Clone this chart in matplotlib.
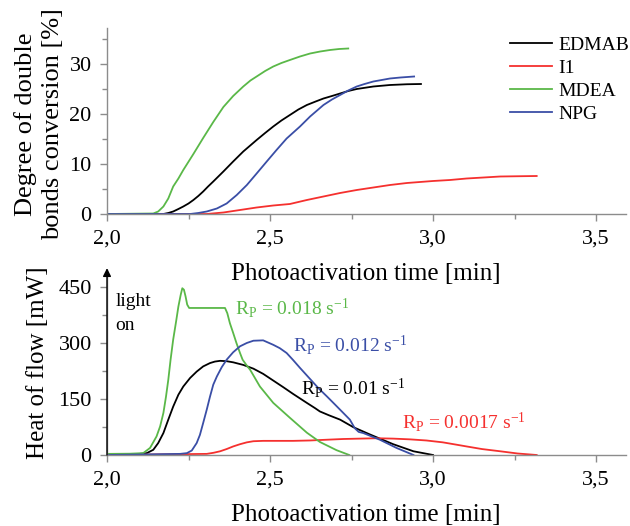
import matplotlib
matplotlib.use("Agg")
import matplotlib.pyplot as plt
from matplotlib.ticker import MultipleLocator, FuncFormatter

plt.rcParams['font.family'] = ['Liberation Serif', 'DejaVu Serif']
plt.rcParams['mathtext.fontset'] = 'custom'
plt.rcParams['mathtext.rm'] = 'Liberation Serif'
plt.rcParams['mathtext.it'] = 'Liberation Serif:italic'

# ---- colours
C_EDMAB = '#000000'
C_I1 = '#f5302e'
C_MDEA = '#5ab848'
C_NPG = '#3a4ea6'
GRAY = '#8c8c8c'

# ---- top panel: degree of double bonds conversion [%]
edmab_x = [2.0, 2.173, 2.188, 2.203, 2.219, 2.234, 2.25, 2.265, 2.28, 2.295, 2.31,
           2.326, 2.357, 2.387, 2.418, 2.459, 2.485, 2.51, 2.535, 2.561, 2.587,
           2.613, 2.64, 2.664, 2.69, 2.715, 2.74, 2.766, 2.817, 2.868, 2.92, 2.963]
edmab_y = [0, 0, 0.2, 0.5, 1.0, 1.5, 2.1, 2.8, 3.6, 4.5, 5.5,
           6.5, 8.5, 10.5, 12.5, 14.8, 16.2, 17.5, 18.7, 19.8, 20.9,
           21.8, 22.5, 23.1, 23.6, 24.1, 24.6, 25.0, 25.5, 25.8, 25.95, 26.0]

i1_x = [2.0, 2.306, 2.357, 2.408, 2.459, 2.51, 2.561, 2.613, 2.664, 2.715, 2.766,
        2.817, 2.868, 2.92, 2.96, 3.0, 3.052, 3.103, 3.155, 3.206, 3.26, 3.318]
i1_y = [0, 0, 0.3, 0.8, 1.3, 1.7, 2.0, 2.8, 3.5, 4.2, 4.8,
        5.3, 5.8, 6.2, 6.4, 6.6, 6.8, 7.1, 7.3, 7.5, 7.55, 7.6]

mdea_x = [2.0, 2.142, 2.157, 2.173, 2.188, 2.203, 2.219, 2.234, 2.265, 2.295, 2.326,
          2.357, 2.387, 2.418, 2.44, 2.459, 2.485, 2.51, 2.535, 2.561, 2.592,
          2.623, 2.654, 2.684, 2.712, 2.740]
mdea_y = [0, 0.1, 0.5, 1.5, 3.1, 5.5, 7.1, 8.8, 12.0, 15.2, 18.4,
          21.4, 23.6, 25.5, 26.7, 27.5, 28.6, 29.5, 30.2, 30.8, 31.5,
          32.1, 32.5, 32.8, 33.0, 33.1]

npg_x = [2.0, 2.255, 2.28, 2.306, 2.337, 2.367, 2.398, 2.429, 2.459, 2.49, 2.52,
         2.551, 2.592, 2.623, 2.664, 2.69, 2.715, 2.74, 2.766, 2.79, 2.817,
         2.868, 2.9, 2.942]
npg_y = [0, 0, 0.2, 0.5, 1.1, 2.1, 3.8, 5.8, 8.1, 10.5, 12.8,
         15.1, 17.5, 19.5, 21.8, 22.9, 23.8, 24.7, 25.5, 26.0, 26.5,
         27.1, 27.3, 27.5]

# ---- bottom panel: heat of flow [mW]
edmab_hf_x = [2.0, 2.1, 2.122, 2.142, 2.157, 2.173, 2.188, 2.203, 2.219, 2.234, 2.255,
              2.275, 2.295, 2.316, 2.331, 2.347, 2.367, 2.387, 2.418, 2.449, 2.479,
              2.51, 2.541, 2.571, 2.613, 2.638, 2.653, 2.68, 2.715, 2.755, 2.807,
              2.878, 2.94, 3.0]
edmab_hf_y = [2, 3, 5, 14, 32, 59, 95, 130, 162, 184, 207,
              224, 238, 247, 251, 253, 252, 249, 242, 232, 218,
              200, 182, 164, 140, 126, 117, 107, 95, 75, 55,
              29, 10, 0]

i1_hf_x = [2.0, 2.306, 2.327, 2.347, 2.367, 2.387, 2.408, 2.429, 2.449, 2.479, 2.52,
           2.571, 2.622, 2.673, 2.725, 2.776, 2.827, 2.878, 2.93, 2.98, 3.03,
           3.07, 3.103, 3.15, 3.206, 3.26, 3.318]
i1_hf_y = [0, 3, 6, 10, 16, 23, 29, 34, 37, 38, 38,
           38, 39, 41, 43, 44, 45, 44, 42, 39, 34,
           28, 23, 16, 10, 4, 0]

mdea_hf_x = [2.0, 2.07, 2.111, 2.132, 2.152, 2.163, 2.173, 2.181, 2.188, 2.195, 2.203,
             2.212, 2.219, 2.226, 2.231, 2.236, 2.241, 2.246, 2.252, 2.362, 2.369,
             2.377, 2.387, 2.397, 2.408, 2.416, 2.429, 2.439, 2.469, 2.51, 2.561,
             2.613, 2.653, 2.704, 2.743]
mdea_hf_y = [3, 3.5, 5, 19, 50, 77, 113, 157, 202, 256, 310,
             359, 399, 430, 448, 444, 426, 404, 395, 395, 381,
             354, 328, 301, 274, 256, 240, 229, 184, 140, 100,
             60, 35, 13, 0]

npg_hf_x = [2.0, 2.224, 2.245, 2.26, 2.275, 2.285, 2.295, 2.306, 2.316, 2.326, 2.337,
            2.352, 2.367, 2.387, 2.408, 2.429, 2.449, 2.479, 2.51, 2.53, 2.551,
            2.571, 2.592, 2.62, 2.648, 2.675, 2.7, 2.745, 2.76, 2.772, 2.786,
            2.837, 2.888, 2.94]
npg_hf_y = [0, 3, 5, 12, 32, 54, 86, 122, 157, 189, 211,
            236, 256, 276, 292, 301, 307, 308, 296, 287, 274,
            255, 234, 207, 180, 157, 135, 95, 72, 62, 59,
            41, 19, 0]

legend_labels = ['EDMAB', 'I1', 'MDEA', 'NPG']
rp_labels = ['0.01', '0.0017', '0.018', '0.012']

x_ticks = [2.0, 2.5, 3.0, 3.5]
top_yticks = [0, 10, 20, 30]
bot_yticks = [0, 150, 300, 450]

W, H = 630, 526
fig = plt.figure(figsize=(W / 100, H / 100), dpi=100)

def px_axes(l, t, r, b):
    return fig.add_axes([l / W, 1 - b / H, (r - l) / W, (b - t) / H])

ax1 = px_axes(107, 28, 626, 214)
ax2 = px_axes(107, 270, 626, 455)
ax2.patch.set_visible(False)

comma = FuncFormatter(lambda v, p: f"{v:.1f}".replace('.', ','))

for ax in (ax1, ax2):
    for s in ('top', 'right'):
        ax.spines[s].set_visible(False)
    for s in ('left', 'bottom'):
        ax.spines[s].set_color(GRAY)
        ax.spines[s].set_linewidth(1.0)
    ax.set_xlim(2.0, 3.592)
    ax.set_xticks(x_ticks)
    ax.xaxis.set_minor_locator(MultipleLocator(0.25))
    ax.xaxis.set_major_formatter(comma)
    ax.tick_params(which='major', direction='out', length=5, width=1.0,
                   color=GRAY, labelsize=16, pad=6)
    ax.tick_params(which='minor', direction='out', length=3.5, width=1.0, color=GRAY)


def fig_text(x, y, s, **kw):
    fig.text(x / W, 1 - y / H, s, **kw)

fig_text(366, 274, 'Photoactivation time [min]', fontsize=18, ha='center', va='center')
fig_text(366, 515, 'Photoactivation time [min]', fontsize=18, ha='center', va='center')
fig_text(39, 124, 'Degree of double\nbonds conversion [%]', fontsize=19,
         ha='center', va='center', rotation=90, linespacing=1.25, multialignment='center')
fig_text(38, 363, 'Heat of flow [mW]', fontsize=18, ha='center', va='center', rotation=90)

lw = 1.3
series_top = [(edmab_x, edmab_y, C_EDMAB), (i1_x, i1_y, C_I1),
              (mdea_x, mdea_y, C_MDEA), (npg_x, npg_y, C_NPG)]
for (x, y, c), lab in zip(series_top, legend_labels):
    ax1.plot(x, y, color=c, lw=lw, label=lab)

ax1.set_ylim(0, 37.2)
ax1.set_yticks(top_yticks)
ax1.yaxis.set_minor_locator(MultipleLocator(5))
leg = ax1.legend(loc='upper left', bbox_to_anchor=(0.776, 0.955), frameon=False,
                 fontsize=14, handlelength=2.15, handletextpad=0.35,
                 labelspacing=0.28, borderpad=0, borderaxespad=0)

series_bot = [(edmab_hf_x, edmab_hf_y, C_EDMAB), (i1_hf_x, i1_hf_y, C_I1),
              (mdea_hf_x, mdea_hf_y, C_MDEA), (npg_hf_x, npg_hf_y, C_NPG)]
for x, y, c in series_bot:
    ax2.plot(x, y, color=c, lw=lw)

ax2.set_ylim(0, 497)
ax2.set_yticks(bot_yticks)
ax2.yaxis.set_minor_locator(MultipleLocator(75))

# arrow along the y axis ("light on")
ax2.annotate('', xy=(0, 1.01), xytext=(0, 0), xycoords='axes fraction',
             textcoords='axes fraction',
             arrowprops=dict(arrowstyle='-|>', color='black', lw=1.0,
                             mutation_scale=12, shrinkA=0, shrinkB=0),
             annotation_clip=False)
ax2.text(2.025, 399, 'light', fontsize=14, va='baseline', ha='left')
ax2.text(2.025, 336, 'on', fontsize=14, va='baseline', ha='left')

rp_pos = [(2.596, 162), (2.904, 72), (2.393, 378), (2.571, 278)]
rp_col = [C_EDMAB, C_I1, C_MDEA, C_NPG]
for (x, y), c, v in zip(rp_pos, rp_col, rp_labels):
    ax2.text(x, y, r'$\mathregular{R_P}$ = ' + v + r' s$^{\mathregular{-1}}$',
             color=c, fontsize=14, va='baseline', ha='left')

fig.savefig('out.png', dpi=100)
